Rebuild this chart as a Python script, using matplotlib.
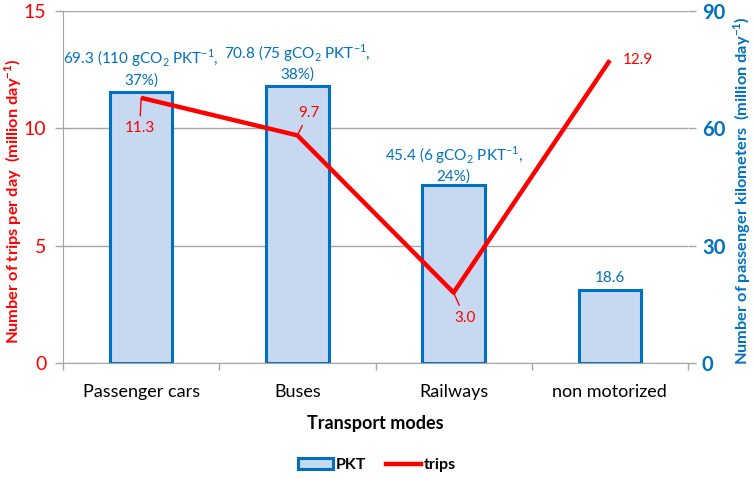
import matplotlib
matplotlib.use("Agg")
import matplotlib.pyplot as plt
import numpy as np
from matplotlib.patches import Patch
from matplotlib.lines import Line2D

plt.rcParams['font.family'] = ['Lato', 'DejaVu Sans']
plt.rcParams['mathtext.fontset'] = 'custom'
plt.rcParams['mathtext.rm'] = 'Lato'
plt.rcParams['mathtext.bf'] = 'Lato:bold'

categories = ["Passenger cars", "Buses", "Railways", "non motorized"]
pkt = [69.3, 70.8, 45.4, 18.6]
trips = [11.3, 9.7, 3.0, 12.9]
pkt_labels = ["69.3 (110 gCO$_2$ PKT$^{-1}$,\n37%)",
              "70.8 (75 gCO$_2$ PKT$^{-1}$,\n38%)",
              "45.4 (6 gCO$_2$ PKT$^{-1}$,\n24%)",
              "18.6"]
trip_labels = ["11.3", "9.7", "3.0", "12.9"]
left_ticks = [0, 5, 10, 15]
right_ticks = [0, 30, 60, 90]

BLUE = "#0070C0"
RED = "#FF0000"
FILL = "#C6D9F1"
GRID = "#A6A6A6"

fig = plt.figure(figsize=(7.54, 4.79), dpi=100)
ax = fig.add_axes([63/754, 1-363/479, (688-63)/754, (363-11)/479])
ax2 = ax.twinx()
ax.set_zorder(ax2.get_zorder() + 1)
ax.patch.set_visible(False)

x = np.arange(len(categories))

# bars on right axis
ax2.bar(x, pkt, width=0.4, color=FILL, edgecolor=BLUE, linewidth=2.2, zorder=3)
ax2.set_ylim(0, 90)
ax2.set_yticks(right_ticks)
ax2.yaxis.grid(True, color=GRID, linewidth=1.0, zorder=0)
ax2.set_axisbelow(True)
ax2.tick_params(axis='y', colors=GRID, length=6, width=1, labelcolor=BLUE, labelsize=14.5, pad=4)
for lab in ax2.get_yticklabels():
    lab.set_fontweight('bold')
ax2.set_ylabel(r"Number of passenger kilometers  (million day$^{\mathbf{-1}}$)", color=BLUE,
               fontsize=11.8, fontweight='bold')
ax2.yaxis.set_label_coords(1.069, 0.49)

offsets_bar = [(0, 3), (0, 3), (0, 1), (0, 4)]
for xi, v, lbl, off in zip(x, pkt, pkt_labels, offsets_bar):
    ax2.annotate(lbl, (xi, v), xytext=off, textcoords='offset points', ha='center', va='bottom',
                 color=BLUE, fontsize=11, linespacing=1.35)

# line on left axis
ax.plot(x, trips, color=RED, linewidth=3.2, solid_capstyle='butt', zorder=5)
ax.set_ylim(0, 15)
ax.set_yticks(left_ticks)
ax.tick_params(axis='y', colors=GRID, length=6, width=1, labelcolor=RED, labelsize=14, pad=6)
ax.set_ylabel(r"Number of trips per day  (million day$^{\mathbf{-1}}$)", color=RED,
              fontsize=11.8, fontweight='bold')
ax.yaxis.set_label_coords(-0.062, 0.46)

trip_offsets = [(-1, -22), (8, 16), (8, -18), (20, 0)]
trip_leader = [True, True, True, False]
for xi, v, lbl, off, lead in zip(x, trips, trip_labels, trip_offsets, trip_leader):
    kw = dict(arrowprops=dict(arrowstyle='-', color=RED, lw=1, shrinkA=2, shrinkB=0)) if lead else {}
    ax.annotate(lbl, (xi, v), xytext=off, textcoords='offset points', ha='center', va='center',
                color=RED, fontsize=11, **kw)

ax.set_xlim(-0.5, len(categories) - 0.5)
ax.set_xticks(x)
ax.set_xticklabels(categories, fontsize=13)
ax.set_xticks(np.arange(-0.5, len(categories), 1.0), minor=True)
ax.tick_params(axis='x', which='major', length=0, pad=15, labelcolor='black')
ax.tick_params(axis='x', which='minor', length=5, color=GRID, width=1)
ax.set_xlabel("Transport modes", fontsize=13, fontweight='bold', labelpad=11)

for a in (ax, ax2):
    a.spines['top'].set_visible(False)
    a.spines['right'].set_visible(False)
    a.spines['left'].set_color(GRID)
    a.spines['bottom'].set_color(GRID)
ax2.spines['left'].set_visible(False)
ax2.spines['bottom'].set_visible(False)

handles = [Patch(facecolor=FILL, edgecolor=BLUE, linewidth=2.2, label='PKT'),
           Line2D([0], [0], color=RED, linewidth=3.2, label='trips')]
leg = fig.legend(handles=handles, loc='center', bbox_to_anchor=(0.5, 1 - 465/479), ncol=2,
                 frameon=False, prop={'weight': 'bold', 'size': 11.5}, handlelength=2.2,
                 handletextpad=0.2, columnspacing=1.2)

fig.savefig("out.png", dpi=100)
